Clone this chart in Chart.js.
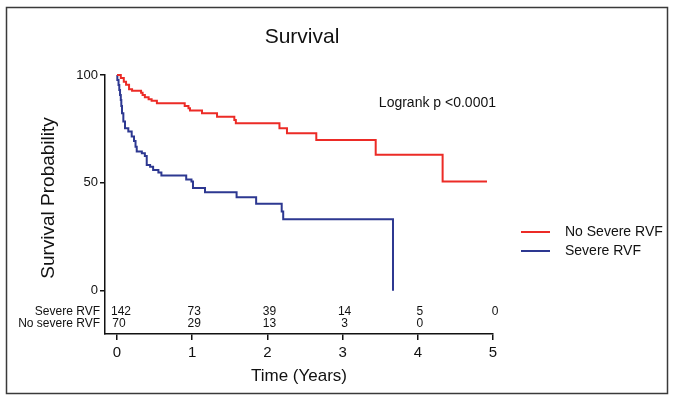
<!DOCTYPE html>
<html>
<head>
<meta charset="utf-8">
<title>Survival</title>
<script src="https://cdn.jsdelivr.net/npm/chart.js@4.4.1/dist/chart.umd.min.js"></script>
<style>
  html, body { margin: 0; padding: 0; background: #fff; }
  canvas { display: block; }
</style>
</head>
<body>
<canvas id="km-chart" width="674" height="402"></canvas>
<script>
// Kaplan-Meier: thoi gian (nam) va ty le song (%) doc tu hinh
const noSevereTimes = [0, 0.05, 0.09, 0.12, 0.16, 0.2, 0.32, 0.34, 0.37, 0.42, 0.46, 0.53, 0.9, 0.95, 0.97, 1.13, 1.33, 1.56, 1.58, 2.16, 2.26, 2.65, 3.44, 4.33, 4.92];
const noSevereSurv  = [100, 98.6, 96.9, 95.5, 93.4, 92.7, 91.8, 90.7, 89.7, 88.8, 88.1, 86.9, 85.6, 84.6, 83.5, 82.3, 80.7, 79.2, 77.6, 75.3, 73.0, 69.9, 63.0, 50.6, 50.6];

const severeTimes = [0, 0.004, 0.02, 0.03, 0.04, 0.05, 0.057, 0.066, 0.084, 0.106, 0.15, 0.195, 0.226, 0.246, 0.262, 0.33, 0.37, 0.395, 0.44, 0.48, 0.55, 0.59, 0.92, 0.99, 1.01, 1.17, 1.59, 1.85, 2.19, 2.21, 3.67];
const severeSurv  = [100, 97.7, 95.4, 93.1, 90.7, 88.4, 85.6, 82.3, 78.4, 75.3, 73.8, 71.5, 69.4, 66.7, 64.5, 63.7, 62.5, 58.3, 57.5, 56.0, 54.8, 53.4, 51.6, 50.6, 47.7, 45.7, 43.4, 40.3, 36.7, 33.2, 0];

const xTicks = [0, 1, 2, 3, 4, 5];
const yTicks = [0, 50, 100];

// so benh nhan con nguy co (number at risk)
const riskTimes = [0, 1, 2, 3, 4, 5];
const severeRisk = [142, 73, 39, 14, 5, 0];
const noSevereRisk = [70, 29, 13, 3, 0];

const FONT = "'Liberation Sans', Arial, Helvetica, sans-serif";
const RED = '#ec2b26';
const BLUE = '#2d3891';
const INK = '#111';

function toPoints(times, surv) {
  return times.map((t, i) => ({ x: t, y: surv[i] }));
}

// ve tieu de, khung, chu giai va bang number at risk
const extras = {
  id: 'extras',
  afterDraw(chart) {
    const { ctx, chartArea, scales } = chart;
    ctx.save();

    // khung ngoai
    ctx.strokeStyle = '#3a3a3a';
    ctx.lineWidth = 1.5;
    ctx.strokeRect(6.5, 7.5, 661, 386);

    ctx.fillStyle = INK;
    ctx.textBaseline = 'middle';

    // tieu de
    ctx.font = '21px ' + FONT;
    ctx.textAlign = 'center';
    ctx.fillText('Survival', (chartArea.left + chartArea.right) / 2 + 3, 37);

    // tieu de truc y
    ctx.save();
    ctx.translate(49, 198);
    ctx.rotate(-Math.PI / 2);
    ctx.font = '19px ' + FONT;
    ctx.fillText('Survival Probability', 0, 0);
    ctx.restore();

    // logrank
    ctx.font = '14px ' + FONT;
    ctx.textAlign = 'right';
    ctx.fillText('Logrank p <0.0001', chartArea.right + 3, chartArea.top + 28);

    // chu giai
    ctx.textAlign = 'left';
    chart.data.datasets.forEach((ds, i) => {
      const ly = chartArea.top + 157 + i * 19;
      ctx.strokeStyle = ds.borderColor;
      ctx.lineWidth = 2;
      ctx.beginPath();
      ctx.moveTo(chartArea.right + 28, ly);
      ctx.lineTo(chartArea.right + 57, ly);
      ctx.stroke();
      ctx.fillText(ds.label, chartArea.right + 72, ly);
    });

    // bang number at risk
    ctx.font = '12px ' + FONT;
    const rows = [['Severe RVF', severeRisk], ['No severe RVF', noSevereRisk]];
    const y0 = scales.y.getPixelForValue(0);
    rows.forEach(([label, counts], r) => {
      const yy = y0 + 21 + r * 12;
      ctx.textAlign = 'right';
      ctx.fillText(label, chartArea.left - 5, yy);
      ctx.textAlign = 'center';
      counts.forEach((n, i) => {
        const s = String(n);
        const w = ctx.measureText(s).width;
        let cx = scales.x.getPixelForValue(riskTimes[i]) + 2;
        cx = Math.max(cx, chartArea.left + 6 + w / 2);
        ctx.fillText(s, cx, yy);
      });
    });

    ctx.restore();
  }
};

new Chart(document.getElementById('km-chart'), {
  type: 'line',
  data: {
    datasets: [
      {
        label: 'No Severe RVF',
        data: toPoints(noSevereTimes, noSevereSurv),
        borderColor: RED,
        backgroundColor: RED,
        borderWidth: 2,
        pointRadius: 0,
        stepped: 'before',
        fill: false,
        clip: false
      },
      {
        label: 'Severe RVF',
        data: toPoints(severeTimes, severeSurv),
        borderColor: BLUE,
        backgroundColor: BLUE,
        borderWidth: 2,
        pointRadius: 0,
        stepped: 'before',
        fill: false,
        clip: false
      }
    ]
  },
  options: {
    responsive: false,
    animation: false,
    devicePixelRatio: 1,
    layout: { padding: { top: 75, right: 181, bottom: 0, left: 0 } },
    plugins: {
      legend: { display: false },
      title: { display: false },
      tooltip: { enabled: false }
    },
    scales: {
      x: {
        type: 'linear',
        min: -0.16,
        max: 5,
        afterBuildTicks: s => { s.ticks = xTicks.map(v => ({ value: v })); },
        afterFit: s => { s.height = 68; },
        ticks: { color: INK, font: { family: FONT, size: 15 }, padding: 4 },
        grid: { display: true, drawOnChartArea: false, drawTicks: true, tickLength: 6, color: INK, lineWidth: 1.5 },
        border: { display: true, color: INK, width: 1.5 },
        title: { display: true, text: 'Time (Years)', color: INK, font: { family: FONT, size: 17 }, padding: { top: 0, bottom: 15 } }
      },
      y: {
        min: -20,
        max: 100,
        afterBuildTicks: s => { s.ticks = yTicks.map(v => ({ value: v })); },
        afterFit: s => { s.width = 105; },
        ticks: { color: INK, font: { family: FONT, size: 13 }, padding: 2 },
        grid: { display: true, drawOnChartArea: false, drawTicks: true, tickLength: 5, color: INK, lineWidth: 1.5 },
        border: { display: true, color: INK, width: 1.5 }
      }
    }
  },
  plugins: [extras]
});
</script>
</body>
</html>
